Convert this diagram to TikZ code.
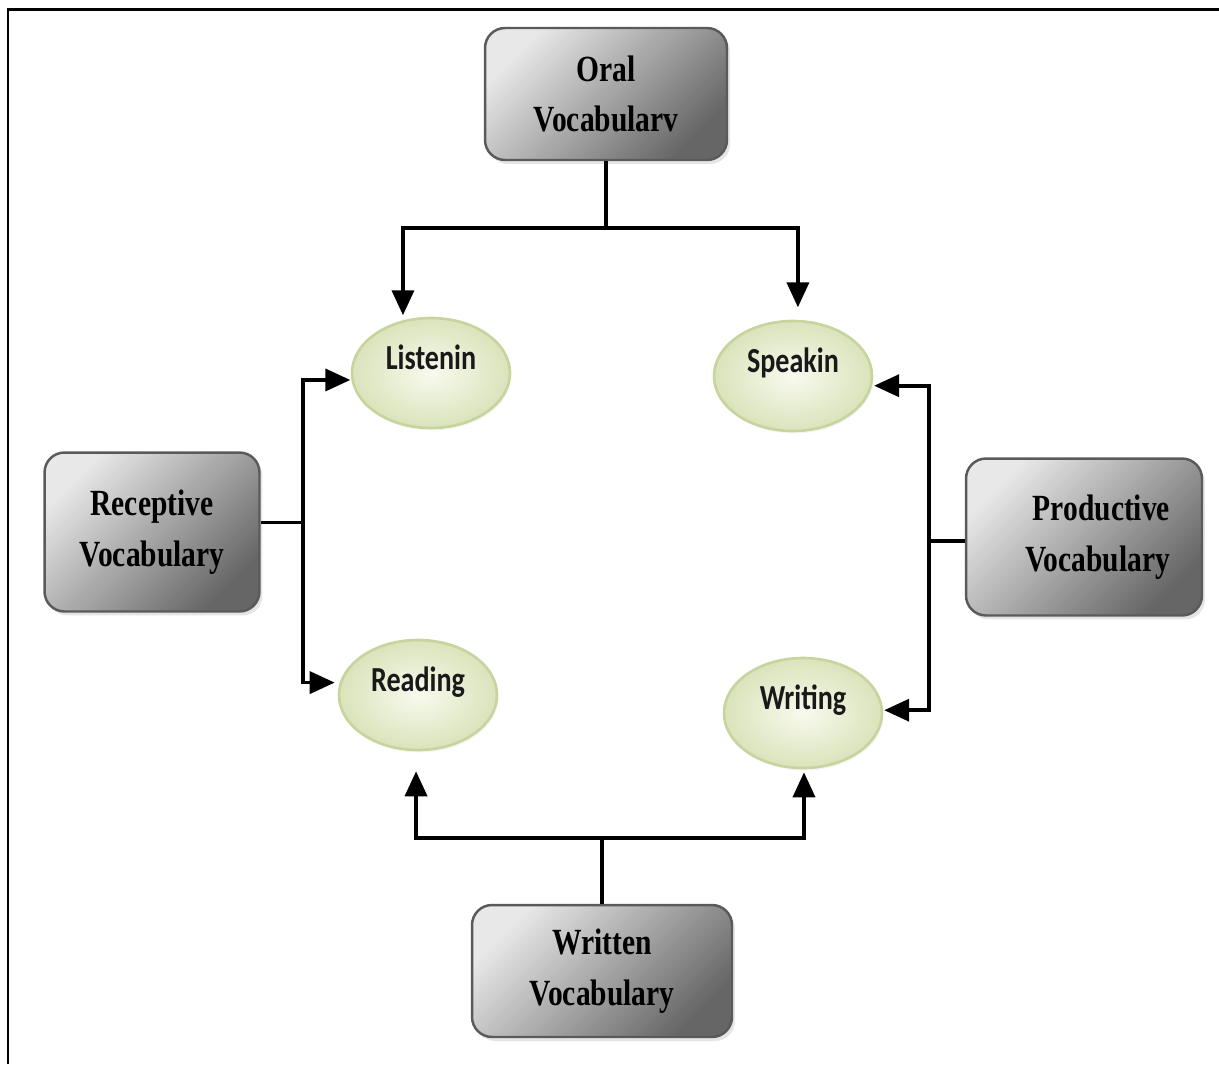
\documentclass[tikz,border=0pt]{standalone}
\usepackage{fontspec}
\newfontfamily\boxfont{Liberation Serif}[FakeStretch=0.8]
\newfontfamily\ovalfont{Carlito}[FakeStretch=0.8]
\usetikzlibrary{arrows.meta,shadows,shapes.geometric}
\definecolor{boxedge}{HTML}{5A5A5A}
\definecolor{boxlight}{HTML}{E8E8E8}
\definecolor{boxdark}{HTML}{666666}
\definecolor{ovalin}{HTML}{F8FAEE}
\definecolor{ovalout}{HTML}{DAE3BB}
\definecolor{ovaledge}{HTML}{C6D49E}

\begin{document}
\begin{tikzpicture}[x=0.02cm,y=-0.02cm,
					vocab node/.style={rectangle,rounded corners=0.4cm,draw=boxedge,line width=1.4pt,
						top color=boxlight,bottom color=boxdark,shading angle=45,
						drop shadow={shadow xshift=0.06cm,shadow yshift=-0.08cm,fill=gray!40},
						inner sep=0pt,align=center,text=black,
						font=\fontsize{21}{29}\selectfont\boxfont\bfseries},
					skill node/.style={ellipse,draw=ovaledge,line width=1.5pt,
						inner color=ovalin,outer color=ovalout,
						drop shadow={shadow xshift=0.03cm,shadow yshift=-0.05cm,fill=gray!15},
						minimum width=3.16cm,minimum height=2.2cm,inner sep=0pt,
						text height=0.5cm,text depth=0.66cm,text=black!90,
						font=\fontsize{20}{24}\selectfont\ovalfont\bfseries},
					link/.style={line width=2.1pt},
					feed/.style={link,-{Triangle[length=0.5cm,width=0.44cm]},shorten >=0.1cm}]

  \useasboundingbox (0,0) rectangle (1219,1064);
  \draw[line width=0.06cm] (8,1064) -- (8,10) -- (1219,10);

  % vocabulary boxes
  \node[vocab node,minimum width=4.84cm,minimum height=2.64cm] (oral) at (606,94) {Oral\\Vocabularv};
  \node[vocab node,minimum width=4.3cm,minimum height=3.18cm] (recep) at (152,532) {Receptive\\Vocabulary};
  \node[vocab node,minimum width=4.72cm,minimum height=3.14cm,text width=3.44cm,align=right] (prod) at (1084,537) {Productive\\Vocabulary};
  \node[vocab node,minimum width=5.2cm,minimum height=2.64cm] (writ) at (602,971) {Written\\Vocabulary};

  % skills
  \node[skill node] (listen) at (431,373) {Listenin};
  \node[skill node] (speak) at (793,376) {Speakin};
  \node[skill node] (read) at (418,695) {Reading};
  \node[skill node] (write) at (803,713) {Writing};

  \draw[link] (oral.south) -- ++(0,67) coordinate (oj);
  \draw[feed] (oj) -| (listen.118);
  \draw[feed,shorten >=0.25cm] (oj) -| (speak.85);

  \draw[link] (recep.5) -- ++(42,0) coordinate (rj);
  \draw[feed,shorten >=0.02cm] (rj) |- (listen.185);
  \draw[feed] (rj) |- (read.171);

  \draw[link] (prod.182) -- ++(-36,0) coordinate (pj);
  \draw[feed,shorten >=0.04cm] (pj) |- (speak.353);
  \draw[feed,shorten >=0.02cm] (pj) |- (write.2);

  \draw[link] (writ.north) -- ++(0,-66) coordinate (wj);
  \draw[feed,shorten >=0.4cm] (wj) -| (read.268);
  \draw[feed,shorten >=0.06cm] (wj) -| (write.271);
\end{tikzpicture}
\end{document}
